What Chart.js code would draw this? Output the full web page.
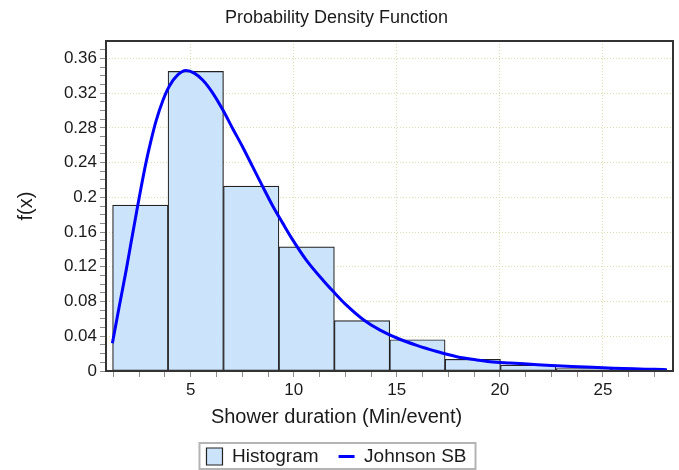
<!DOCTYPE html>
<html>
<head>
<meta charset="utf-8">
<script src="https://cdn.jsdelivr.net/npm/chart.js@4.4.1/dist/chart.umd.min.js"></script>
<style>
  html, body { margin: 0; padding: 0; background: #fff; }
  #wrap { width: 679px; height: 470px; position: relative; }
</style>
</head>
<body>
<div id="wrap"><canvas id="pdf-chart"></canvas></div>
<script>
// histogram bins (Min/event) and the density of each bin
const binEdges = [1.21, 3.9, 6.59, 9.28, 11.97, 14.66, 17.34, 20.03, 22.72, 25.41, 28.1];
const binDensity = [0.191, 0.345, 0.213, 0.143, 0.058, 0.036, 0.0135, 0.0068, 0.0028, 0.0022];

// fitted Johnson SB density
const curveX = [1.2, 1.53, 1.86, 2.1, 2.38, 2.59, 2.83, 3.07, 3.32, 3.64, 3.96, 4.37, 4.77, 5.17,
    5.58, 6.07, 6.55, 7.04, 7.52, 8.01, 8.5, 8.98, 9.47, 9.95, 10.6, 11.44, 11.92, 12.57, 13.38,
    14.19, 15.0, 15.97, 16.94, 17.91, 18.88, 19.53, 20.5, 21.5, 22.5, 23.5, 24.5, 25.5, 26.5, 27.5, 28.1];
const curveY = [0.032, 0.074, 0.115, 0.147, 0.184, 0.211, 0.24, 0.265, 0.288, 0.311, 0.328, 0.341, 0.346, 0.343,
    0.335, 0.32, 0.301, 0.279, 0.258, 0.235, 0.212, 0.19, 0.17, 0.151, 0.128, 0.104, 0.0915, 0.0755, 0.059,
    0.047, 0.038, 0.0295, 0.0225, 0.0165, 0.0127, 0.0107, 0.0092, 0.0078, 0.0064, 0.0052, 0.0042, 0.0033, 0.0025, 0.0019, 0.0015];

const xRange = [0.89, 28.4];
const yRange = [0, 0.38];
const xTickLabels = [5, 10, 15, 20, 25];
const yTickLabels = ['0', '0.04', '0.08', '0.12', '0.16', '0.2', '0.24', '0.28', '0.32', '0.36'];
const xMinorStep = 1.25;
const yMinorStep = 0.01;

(function () {
    const canvas = document.getElementById('pdf-chart');
    const textColor = '#1a1a1a';
    const gridColor = '#dcdcb8';
    const tickColor = '#8c8c8c';

    Chart.defaults.font.family = '"Liberation Sans", Arial, sans-serif';
    Chart.defaults.color = textColor;

    const yMajor = yTickLabels.map((l) => parseFloat(l));
    const isMajorX = (v) => xTickLabels.includes(v);
    const isMajorY = (v) => yMajor.includes(v);

    const minorTicks = (step, max) => {
        const out = [];
        for (let k = 0; k * step <= max + 1e-9; k++) out.push({ value: +(k * step).toFixed(2) });
        return out;
    };

    // plot frame + a border round the legend
    const framePlugin = {
        id: 'frame',
        afterDraw(chart) {
            const { ctx, chartArea: a, legend } = chart;
            ctx.save();
            ctx.strokeStyle = '#333';
            ctx.lineWidth = 2;
            ctx.strokeRect(a.left, a.top, a.right - a.left, a.bottom - a.top);
            const hb = legend && legend.legendHitBoxes;
            if (hb && hb.length) {
                const first = hb[0];
                const last = hb[hb.length - 1];
                const x0 = first.left - 7;
                const x1 = last.left + last.width + 9;
                const y0 = first.top - 4;
                const y1 = first.top + first.height + 3;
                ctx.strokeStyle = '#b4b4b4';
                ctx.lineWidth = 2;
                ctx.strokeRect(x0, y0, x1 - x0, y1 - y0);
            }
            ctx.restore();
        },
    };

    const config = {
        type: 'bar',
        data: {
            datasets: [{
                type: 'bar',
                label: 'Histogram',
                data: binDensity.map((d, i) => ({ x: (binEdges[i] + binEdges[i + 1]) / 2, y: d })),
                backgroundColor: '#cce4fb',
                borderColor: '#222',
                borderWidth: 1.2,
                borderSkipped: false,
                barThickness: 'flex',
                categoryPercentage: 1,
                barPercentage: 1,
                order: 2,
            }, {
                type: 'line',
                label: 'Johnson SB',
                data: curveX.map((x, i) => ({ x: x, y: curveY[i] })),
                borderColor: '#0000ff',
                backgroundColor: '#0000ff',
                borderWidth: 3,
                pointRadius: 0,
                cubicInterpolationMode: 'monotone',
                order: 1,
            }],
        },
        options: {
            responsive: true,
            maintainAspectRatio: false,
            animation: false,
            layout: { padding: { left: 0, right: 6, top: 0, bottom: -6 } },
            scales: {
                x: {
                    type: 'linear',
                    min: xRange[0],
                    max: xRange[1],
                    offset: false,
                    afterBuildTicks: (scale) => { scale.ticks = minorTicks(xMinorStep, scale.max).filter((t) => t.value > scale.min); },
                    afterFit: (scale) => { scale.height = 36; },
                    grid: {
                        offset: false,
                        color: (c) => (c.tick && isMajorX(c.tick.value) ? gridColor : 'rgba(0,0,0,0)'),
                        tickColor: tickColor,
                        tickLength: 6,
                        tickBorderDash: [],
                    },
                    border: { display: false, dash: [1, 2] },
                    ticks: {
                        autoSkip: false,
                        maxRotation: 0,
                        padding: 3,
                        font: { size: 17 },
                        callback: (v) => (isMajorX(v) ? String(v) : ''),
                    },
                },
                y: {
                    type: 'linear',
                    min: yRange[0],
                    max: yRange[1],
                    afterBuildTicks: (scale) => { scale.ticks = minorTicks(yMinorStep, 0.37); },
                    afterFit: (scale) => { scale.width = 106; },
                    grid: {
                        color: (c) => (c.tick && isMajorY(c.tick.value) && c.tick.value > 0 ? gridColor : 'rgba(0,0,0,0)'),
                        tickColor: tickColor,
                        tickLength: 6,
                        tickBorderDash: [],
                    },
                    border: { display: false, dash: [1, 2] },
                    ticks: {
                        autoSkip: false,
                        padding: 3,
                        font: { size: 17 },
                        callback: (v) => yTickLabels.find((l) => parseFloat(l) === v) || '',
                    },
                    title: {
                        display: true,
                        text: 'f(x)',
                        font: { size: 20 },
                        padding: { top: 14, bottom: 0 },
                    },
                },
            },
            plugins: {
                title: {
                    display: true,
                    text: 'Probability Density Function',
                    font: { size: 18, weight: 'normal' },
                    padding: { top: 7, bottom: 12.4 },
                },
                subtitle: {
                    display: true,
                    text: 'Shower duration (Min/event)',
                    position: 'bottom',
                    weight: 500,
                    font: { size: 20, lineHeight: 1 },
                    padding: 0,
                },
                legend: {
                    position: 'bottom',
                    labels: {
                        usePointStyle: true,
                        pointStyleWidth: 16,
                        boxHeight: 17,
                        padding: 20,
                        font: { size: 19 },
                        generateLabels: (chart) => {
                            const items = Chart.defaults.plugins.legend.labels.generateLabels(chart);
                            items.forEach((it) => {
                                if (it.datasetIndex === 0) {
                                    it.pointStyle = 'rect';
                                    it.lineWidth = 1.2;
                                } else {
                                    it.pointStyle = 'line';
                                    it.lineWidth = 3;
                                    it.strokeStyle = '#0000ff';
                                }
                            });
                            return items;
                        },
                        sort: (a, b) => a.datasetIndex - b.datasetIndex,
                    },
                },
                tooltip: { enabled: false },
            },
        },
        plugins: [framePlugin],
    };

    new Chart(canvas, config);
})();
</script>
</body>
</html>
